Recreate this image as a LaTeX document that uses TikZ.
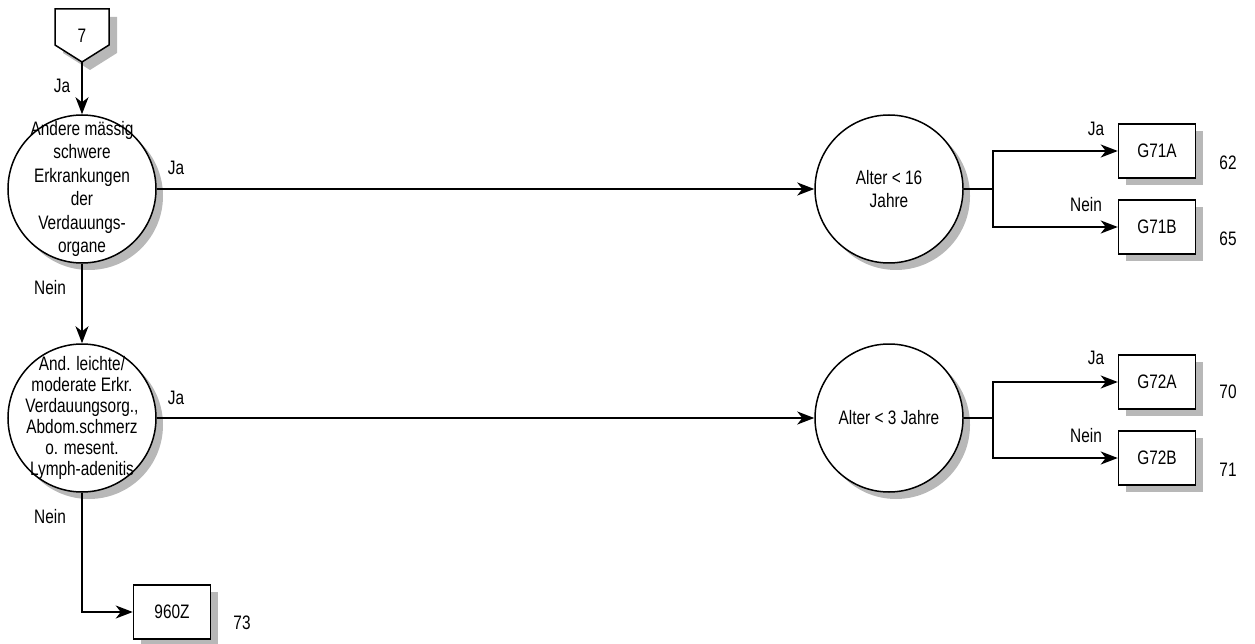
\documentclass[tikz,border=0pt]{standalone}
\usepackage{fontspec}
\setmainfont{Liberation Sans}[FakeStretch=0.79]
\usetikzlibrary{arrows.meta,shadows}

\begin{document}
\begin{tikzpicture}[x=1pt,y=-1pt,
    font=\fontsize{19.5}{23.4}\selectfont,
    sh/.style={drop shadow={shadow xshift=7pt,shadow yshift=-7pt,fill=black!28,opacity=1}},
    decision/.style={circle,draw,line width=1.5pt,fill=white,minimum size=148pt,inner sep=0pt,sh},
    drg/.style={rectangle,draw,line width=1.5pt,fill=white,minimum width=77pt,minimum height=54pt,sh},
    qtext/.style={align=center,inner sep=0pt},
    arr/.style={-{Stealth[length=17pt,width=13pt,inset=5pt]},line width=1.5pt},
    edge/.style={line width=1.5pt}]
  \useasboundingbox (0,0) rectangle (1255,644);

  % off-page connector
  \fill[black!28] (63,17) -- (117,17) -- (117,53) -- (90,70) -- (63,53) -- cycle;
  \draw[line width=1.5pt,fill=white] (55,9) -- (109,9) -- (109,45) -- (82,62) -- (55,45) -- cycle;
  \node (c7) at (82,36) {7};
  \coordinate (c7tip) at (82,62);

  % decisions
  \node[decision,label={[qtext]center:{Andere mässig\\schwere\\Erkrankungen\\der\\Verdauungs-\\organe}}] (q1) at (82,189) {};
  \node[decision,label={[qtext,font=\fontsize{19.5}{21}\selectfont]center:{And. leichte/\\moderate Erkr.\\Verdauungsorg.,\\Abdom.schmerz\\o. mesent.\\Lymph-adenitis}}] (q2) at (82,418) {};
  \node[decision,label={[qtext]center:{Alter < 16\\Jahre}}] (a1) at (889,189) {};
  \node[decision,label={[qtext]center:{Alter < 3 Jahre}}] (a2) at (889,418) {};

  % DRGs
  \node[drg] (g71a) at (1157,151) {G71A};
  \node[drg] (g71b) at (1157,227) {G71B};
  \node[drg] (g72a) at (1157,382) {G72A};
  \node[drg] (g72b) at (1157,458) {G72B};
  \node[drg] (z960) at (172,612) {960Z};

  \node (n62) at (1228,163) {62};
  \node (n65) at (1228,239) {65};
  \node (n70) at (1228,392) {70};
  \node (n71) at (1228,470) {71};
  \node (n73) at (242,623) {73};

  % connectors
  \draw[arr] (c7tip) -- (q1);
  \draw[arr] (q1) -- (q2);
  \draw[arr] (q1) -- (a1);
  \draw[arr] (q2) -- (a2);
  \draw[arr] (q2) |- (z960);
  \draw[edge] (a1.east) -- ++(29,0) coordinate (a1j);
  \draw[arr] (a1j) |- (g71a);
  \draw[arr] (a1j) |- (g71b);
  \draw[edge] (a2.east) -- ++(29,0) coordinate (a2j);
  \draw[arr] (a2j) |- (g72a);
  \draw[arr] (a2j) |- (g72b);

  % branch labels
  \node (ja0) at (62,86) {Ja};
  \node (ja1) at (176,168) {Ja};
  \node (nein1) at (50,288) {Nein};
  \node (ja2) at (176,398) {Ja};
  \node (nein2) at (50,517) {Nein};
  \node (ja3) at (1096,129) {Ja};
  \node (nein3) at (1086,205) {Nein};
  \node (ja4) at (1096,358) {Ja};
  \node (nein4) at (1086,436) {Nein};
\end{tikzpicture}
\end{document}
